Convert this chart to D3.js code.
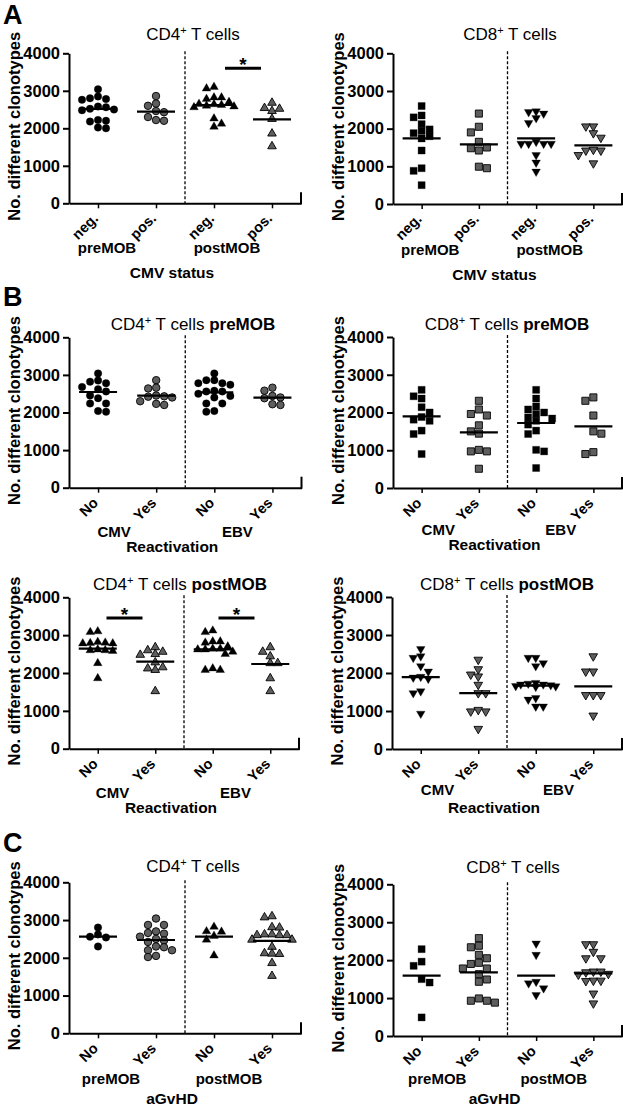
<!DOCTYPE html>
<html><head><meta charset="utf-8">
<script src="https://cdn.jsdelivr.net/npm/d3@7"></script>
<style>
body{margin:0;background:#fff}
text{font-family:"Liberation Sans",Arial,Helvetica,sans-serif}
</style>
</head><body>
<svg id="c" width="623" height="1108"></svg>
<script>
// ---------- DATA ----------
const yTicks = [0, 1000, 2000, 3000, 4000];
const A_cats = ["neg.", "pos.", "neg.", "pos."];
const A_groups = ["preMOB", "postMOB"];
const A_axisTitle = "CMV status";
const B_cats = ["No", "Yes", "No", "Yes"];
const B_groups = ["CMV", "EBV"];
const B_axisTitle = "Reactivation";
const C_cats = ["No", "Yes", "No", "Yes"];
const C_groups = ["preMOB", "postMOB"];
const C_axisTitle = "aGvHD";

// A: CMV status
const A_CD4 = [
  [3040, 2850, 2800, 2780, 2760, 2580, 2560, 2520, 2500, 2480, 2220, 2200, 2180, 2020, 2000],
  [2860, 2660, 2600, 2460, 2430, 2300, 2220, 2200],
  [3100, 3060, 2820, 2820, 2780, 2700, 2650, 2640, 2620, 2600, 2580, 2560, 2260, 2120, 2040],
  [2680, 2540, 2520, 2460, 2250, 1860, 1520]
];
const A_CD4_means = [2520, 2445, 2622, 2240];
const A_CD4_sig = [[2, 3, 3600]];
const A_CD8 = [
  [2600, 2350, 2300, 2120, 1980, 1940, 1880, 1800, 1740, 1420, 950, 880, 500],
  [2400, 2050, 1900, 1650, 1500, 1480, 1420, 990, 950],
  [2460, 2440, 2400, 2280, 2150, 1650, 1600, 1600, 1600, 1600, 1300, 1100, 860],
  [2060, 2060, 1880, 1760, 1420, 1420, 1440, 1300, 1080]
];
const A_CD8_means = [1743, 1584, 1743, 1558];
const A_CD8_sig = [];

// B: Reactivation
const B_CD4pre = [
  [3040, 2850, 2820, 2780, 2680, 2620, 2560, 2450, 2380, 2240, 2240, 2040, 2020],
  [2860, 2660, 2640, 2450, 2430, 2420, 2400, 2300, 2230, 2200],
  [3040, 2860, 2860, 2780, 2740, 2780, 2580, 2560, 2500, 2560, 2440, 2400, 2240, 2240, 2040, 2020],
  [2660, 2580, 2440, 2380, 2400, 2220, 2200]
];
const B_CD4pre_means = [2545, 2448, 2537, 2395];
const B_CD4pre_sig = [];
const B_CD8pre = [
  [2600, 2430, 2370, 2140, 2000, 1880, 1780, 1810, 1520, 1430, 900],
  [2310, 2080, 1960, 1920, 1660, 1440, 1500, 970, 970, 1010, 510],
  [2600, 2370, 2160, 2080, 2000, 1960, 1870, 1840, 1780, 1680, 1520, 1430, 1010, 970, 530],
  [2400, 2310, 1920, 1500, 1440, 900, 950]
];
const B_CD8pre_means = [1898, 1475, 1722, 1634];
const B_CD8pre_sig = [];
const B_CD4post = [
  [3100, 3080, 2800, 2780, 2820, 2790, 2780, 2620, 2600, 2600, 2580, 2260, 1860],
  [2680, 2560, 2480, 2500, 2600, 2280, 2120, 2080, 2150, 1520],
  [3120, 3080, 2830, 2800, 2830, 2700, 2620, 2640, 2620, 2640, 2560, 2500, 2120, 2080, 2080],
  [2680, 2560, 2440, 2260, 2260, 1860, 1520]
];
const B_CD4post_means = [2643, 2300, 2625, 2238];
const B_CD4post_sig = [[0, 1, 3450], [2, 3, 3450]];
const B_CD8post = [
  [2630, 2440, 2400, 2180, 2040, 1880, 1900, 1850, 1520, 1470, 930],
  [2350, 2100, 1960, 1910, 1690, 1470, 1470, 990, 990, 1030, 530],
  [2400, 2400, 2260, 2180, 1720, 1700, 1680, 1660, 1650, 1640, 1700, 1740, 1300, 1340, 1120, 1120],
  [2440, 2040, 2040, 1420, 1420, 1420, 880]
];
const B_CD8post_means = [1894, 1473, 1666, 1649];
const B_CD8post_sig = [];

// C: aGvHD
const C_CD4 = [
  [2800, 2560, 2540, 2620, 2300],
  [3040, 2870, 2870, 2700, 2660, 2640, 2560, 2500, 2460, 2420, 2300, 2280, 2200, 2200, 2050, 2020],
  [2700, 2820, 2690, 2580, 2480, 2060],
  [3100, 3070, 2810, 2800, 2620, 2600, 2600, 2620, 2600, 2480, 2480, 2290, 2120, 2110, 2100, 1860, 1520]
];
const C_CD4_means = [2561, 2472, 2561, 2446];
const C_CD4_sig = [];
const C_CD8 = [
  [2290, 1960, 1850, 1500, 1410, 490],
  [2580, 2380, 2340, 2140, 2050, 1900, 1930, 1780, 1780, 1630, 1490, 1430, 930, 880, 930, 990],
  [2440, 2140, 1430, 1390, 1260, 1080],
  [2420, 2420, 2220, 2050, 2050, 1640, 1620, 1700, 1700, 1680, 1460, 1450, 1460, 1120, 860]
];
const C_CD8_means = [1591, 1679, 1591, 1652];
const C_CD8_sig = [];

// ---------- LAYOUT ----------
const panels = [
  {data:A_CD4, means:A_CD4_means, sig:A_CD4_sig, cats:A_cats, groups:A_groups, axt:A_axisTitle,
   cell:"CD4", bold:"", mk:["circle","circle","up","up"], x0:69, x1:301, yt:53.3, yb:203.3,
   tx:193, ty:40, gy:253, ly:278, goff:[-20,-16], letter:"A", lty:24},
  {data:A_CD8, means:A_CD8_means, sig:A_CD8_sig, cats:A_cats, groups:A_groups, axt:A_axisTitle,
   cell:"CD8", bold:"", mk:["square","square","down","down"], x0:393, x1:622, yt:53.3, yb:204,
   tx:510, ty:40, gy:255, ly:280, goff:[-20,-15]},
  {data:B_CD4pre, means:B_CD4pre_means, sig:B_CD4pre_sig, cats:B_cats, groups:B_groups, axt:B_axisTitle,
   cell:"CD4", bold:"preMOB", mk:["circle","circle","circle","circle"], x0:69, x1:301.5, yt:337.3, yb:487.7,
   tx:193, ty:330, gy:537, ly:552, goff:[-13,-6], letter:"B", lty:306},
  {data:B_CD8pre, means:B_CD8pre_means, sig:B_CD8pre_sig, cats:B_cats, groups:B_groups, axt:B_axisTitle,
   cell:"CD8", bold:"preMOB", mk:["square","square","square","square"], x0:393, x1:622, yt:337, yb:488,
   tx:507, ty:330, gy:535, ly:550, goff:[-12,-4]},
  {data:B_CD4post, means:B_CD4post_means, sig:B_CD4post_sig, cats:B_cats, groups:B_groups, axt:B_axisTitle,
   cell:"CD4", bold:"postMOB", mk:["up","up","up","up"], x0:69, x1:299, yt:597.3, yb:748.7,
   tx:180, ty:590, gy:798, ly:813, goff:[-14,-6], sigoff:[-2,-5]},
  {data:B_CD8post, means:B_CD8post_means, sig:B_CD8post_sig, cats:B_cats, groups:B_groups, axt:B_axisTitle,
   cell:"CD8", bold:"postMOB", mk:["down","down","down","down"], x0:392, x1:622, yt:597, yb:749,
   tx:507, ty:590, gy:795, ly:813, goff:[-12,-6]},
  {data:C_CD4, means:C_CD4_means, sig:C_CD4_sig, cats:C_cats, groups:C_groups, axt:C_axisTitle,
   cell:"CD4", bold:"", mk:["circle","circle","up","up"], x0:69, x1:301, yt:882.3, yb:1033.3,
   tx:193, ty:872, gy:1084, ly:1104, goff:[-16,-14], letter:"C", lty:852},
  {data:C_CD8, means:C_CD8_means, sig:C_CD8_sig, cats:C_cats, groups:C_groups, axt:C_axisTitle,
   cell:"CD8", bold:"", mk:["square","square","down","down"], x0:393, x1:622, yt:884.3, yb:1036,
   tx:513, ty:873, gy:1084, ly:1104, goff:[-13,-11]}
];

const svg = d3.select("#c");
const GRAY = "#5e5e5e";
const FONT = "Liberation Sans, Arial, sans-serif";

// compact swarm placement (overlap allowed when crowded)
function swarm(vals, y, w, h, maxW) {
  const idx = vals.map((v, i) => i).sort((a, b) => vals[b] - vals[a]);
  const placed = [];
  const off = new Array(vals.length).fill(0);
  let sum = 0;
  idx.forEach(i => {
    const py = y(vals[i]);
    let best = 0, bestCost = Infinity;
    for (let o = -maxW; o <= maxW + 1e-9; o += 0.5) {
      let cost = 0;
      placed.forEach(p => {
        const ox = w - Math.abs(o - p.o), oy = h - Math.abs(py - p.y);
        if (ox > 0 && oy > 0) cost += ox * oy;
      });
      cost += 0.03 * Math.abs(o) + (sum >= 0 ? 0.001 * o : -0.001 * o);
      if (cost < bestCost - 1e-9) { bestCost = cost; best = o; }
    }
    off[i] = best; placed.push({o: best, y: py}); sum += best;
  });
  return off;
}

const symGen = {
  circle: d3.symbol().type(d3.symbolCircle).size(44),
  square: d3.symbol().type(d3.symbolSquare).size(50),
  up: d3.symbol().type(d3.symbolTriangle).size(32),
  down: d3.symbol().type(d3.symbolTriangle).size(32)
};

panels.forEach(p => {
  const g = svg.append("g");
  const x = d3.scalePoint().domain([0, 1, 2, 3]).range([p.x0, p.x1]).padding(0.5);
  const y = d3.scaleLinear().domain([0, 4000]).range([p.yb, p.yt]);

  // Y axis
  const gy = g.append("g").attr("transform", `translate(${p.x0},0)`)
    .call(d3.axisLeft(y).tickValues(yTicks).tickSize(6).tickSizeOuter(0).tickPadding(3).tickFormat(d3.format("d")));
  gy.attr("font-size", 16).attr("font-weight", "bold").attr("font-family", FONT);
  gy.select(".domain").attr("stroke", "#000").attr("stroke-width", 2);
  gy.selectAll(".tick line").attr("stroke", "#000").attr("stroke-width", 2);
  gy.selectAll(".tick text").attr("fill", "#000").style("font-size", "16.5px").style("font-weight", "bold");

  // X axis (ticks only, labels drawn separately)
  const gx = g.append("g").attr("transform", `translate(0,${p.yb})`)
    .call(d3.axisBottom(x).tickSize(5).tickSizeOuter(0).tickFormat(() => ""));
  gx.select(".domain").attr("stroke", "#000").attr("stroke-width", 2);
  gx.selectAll(".tick line").attr("stroke", "#000").attr("stroke-width", 1.5);
  g.append("line").attr("x1", p.x1).attr("x2", p.x1).attr("y1", p.yb + 1).attr("y2", p.yb - 11)
    .attr("stroke", "#000").attr("stroke-width", 2);

  // rotated category labels
  g.append("g").selectAll("text").data(x.domain()).join("text")
    .attr("transform", i => `translate(${x(i) + 1},${p.yb + 16}) rotate(-45)`)
    .attr("text-anchor", "end").attr("font-size", 14.5).attr("font-weight", "bold")
    .text(i => p.cats[i]);

  // dashed separator
  const xm = (x(1) + x(2)) / 2;
  g.append("line").attr("x1", xm).attr("x2", xm).attr("y1", p.yt - 2).attr("y2", p.yb)
    .attr("stroke", "#000").attr("stroke-width", 1.3).attr("stroke-dasharray", "3,2");

  // points
  p.data.forEach((vals, ci) => {
    const t = p.mk[ci];
    const w = t === "circle" ? 8 : (t === "square" ? 8 : 7.5);
    const offs = swarm(vals, y, w, 6.5, 20);
    const fill = ci % 2 === 0 ? "#000" : GRAY;
    g.append("g").selectAll("path").data(vals).join("path")
      .attr("d", symGen[t])
      .attr("transform", (v, i) => `translate(${x(ci) + offs[i]},${y(v)})` + (t === "down" ? " rotate(180)" : ""))
      .attr("fill", fill).attr("stroke", "#000").attr("stroke-width", ci % 2 === 0 ? 0.3 : 0.9);
  });

  // mean lines
  g.append("g").selectAll("line").data(p.means).join("line")
    .attr("x1", (m, i) => x(i) - 19).attr("x2", (m, i) => x(i) + 19)
    .attr("y1", m => y(m)).attr("y2", m => y(m))
    .attr("stroke", "#000").attr("stroke-width", 2.2);

  // significance
  p.sig.forEach(([a, b, v], k) => {
    const c = (x(a) + x(b)) / 2 + (p.sigoff ? p.sigoff[k] : 0);
    g.append("line").attr("x1", c - 18).attr("x2", c + 18).attr("y1", y(v)).attr("y2", y(v))
      .attr("stroke", "#000").attr("stroke-width", 3);
    g.append("text").attr("x", c).attr("y", y(v) + 3).attr("text-anchor", "middle")
      .attr("font-size", 19).attr("font-weight", "bold").text("*");
  });

  // title
  const tt = g.append("text").attr("x", p.tx).attr("y", p.ty).attr("text-anchor", "middle")
    .attr("font-size", 17).attr("fill", "#000");
  tt.append("tspan").text(p.cell);
  tt.append("tspan").attr("font-size", 11).attr("dy", -6).text("+");
  tt.append("tspan").attr("dy", 6).text(" T cells");
  if (p.bold) tt.append("tspan").attr("font-weight", "bold").text(" " + p.bold);

  // group labels
  [0, 1].forEach(gi => {
    const cx = (x(gi * 2) + x(gi * 2 + 1)) / 2 + p.goff[gi];
    g.append("text").attr("x", cx).attr("y", p.gy).attr("text-anchor", "middle")
      .attr("font-size", 15).attr("font-weight", "bold").text(p.groups[gi]);
  });
  g.append("text").attr("x", xm - 13).attr("y", p.ly).attr("text-anchor", "middle")
    .attr("font-size", 15.5).attr("font-weight", "bold").text(p.axt);

  // y label
  const yc = (p.yt + p.yb) / 2 - 2;
  g.append("text").attr("transform", `translate(${p.x0 - 49},${yc}) rotate(-90)`)
    .attr("text-anchor", "middle").attr("font-size", 16.5).attr("font-weight", "bold")
    .text("No. different clonotypes");

  if (p.letter) {
    g.append("text").attr("x", 3).attr("y", p.lty).attr("font-size", 27).attr("font-weight", "bold")
      .text(p.letter);
  }
});
</script>
</body></html>
